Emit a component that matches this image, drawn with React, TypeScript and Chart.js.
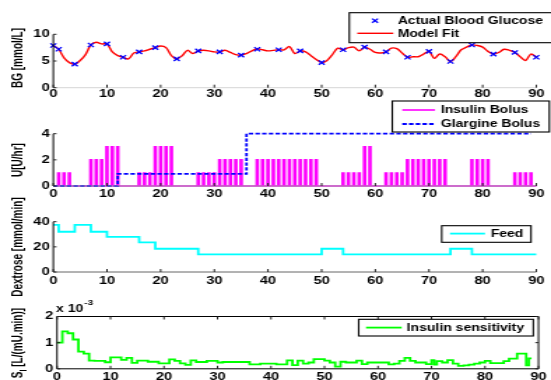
import React, { useEffect, useRef } from 'react';
import { Chart, registerables } from 'chart.js';

Chart.register(...registerables);

// ---------------- data ----------------
const X_TICKS = [0, 10, 20, 30, 40, 50, 60, 70, 80, 90];

const BG_TICKS = [0, 5, 10];
const BG_TIMES = [0, 1, 4, 7, 10, 13, 16, 19, 23, 27, 31, 35, 38, 42, 46, 50, 54, 58, 62, 66, 70, 74, 78, 82, 86, 90];
const BG_VALUES = [7.9, 7.2, 4.4, 8.0, 8.2, 5.7, 6.7, 7.5, 5.4, 6.9, 6.7, 6.1, 7.2, 7.1, 6.9, 4.7, 7.1, 7.6, 6.7, 5.7, 6.8, 4.9, 8.0, 6.3, 6.6, 5.7];

const FIT_TIMES = [0, 1, 2, 3, 4, 5, 6, 7, 8, 9, 10, 11, 12, 13, 14, 15, 16, 17, 18, 19, 20, 21, 22, 23, 24, 25, 26, 27, 28, 29, 30, 31, 32, 33, 34, 35, 36, 37, 38, 39, 40, 41, 42, 43, 44, 45, 46, 47, 48, 49, 50, 51, 52, 53, 54, 55, 56, 57, 58, 59, 60, 61, 62, 63, 64, 65, 66, 67, 68, 69, 70, 71, 72, 73, 74, 75, 76, 77, 78, 79, 80, 81, 82, 83, 84, 85, 86, 87, 88, 89, 90];
const FIT_VALUES = [7.9, 7.2, 5.6, 4.7, 4.4, 5.1, 6.2, 8.0, 8.5, 8.2, 8.2, 6.7, 6.0, 5.7, 5.4, 6.5, 6.7, 6.9, 7.2, 7.5, 7.8, 7.5, 6.0, 5.4, 6.0, 7.0, 6.4, 6.9, 7.0, 6.9, 6.7, 6.7, 7.0, 6.6, 6.2, 6.1, 6.4, 6.9, 7.3, 7.1, 6.9, 7.0, 7.1, 7.1, 7.7, 6.4, 6.9, 6.7, 6.0, 5.3, 4.7, 5.1, 6.2, 7.4, 7.1, 7.5, 7.6, 6.9, 7.6, 7.2, 6.6, 6.5, 6.7, 7.4, 7.3, 6.5, 5.7, 5.8, 5.8, 6.3, 6.8, 5.5, 6.3, 5.8, 4.9, 5.8, 7.1, 7.6, 8.0, 7.9, 7.6, 6.8, 6.3, 6.6, 7.2, 7.0, 6.6, 5.8, 5.1, 6.3, 5.7];

const U_TICKS = [0, 2, 4];
const BOLUS_HOURS = [1, 2, 3, 7, 8, 9, 10, 11, 12, 16, 17, 18, 19, 20, 21, 22, 27, 28, 29, 30, 31, 32, 33, 34, 35, 38, 39, 40, 41, 42, 43, 44, 45, 46, 47, 48, 49, 54, 55, 56, 57, 58, 59, 62, 63, 64, 65, 66, 67, 68, 69, 70, 71, 72, 73, 78, 79, 80, 81, 86, 87, 88, 89];
const BOLUS_RATES = [1, 1, 1, 2, 2, 2, 3, 3, 3, 1, 1, 1, 3, 3, 3, 3, 1, 1, 1, 1, 2, 2, 2, 2, 2, 2, 2, 2, 2, 2, 2, 2, 2, 2, 2, 2, 2, 1, 1, 1, 1, 3, 3, 1, 1, 1, 1, 2, 2, 2, 2, 2, 2, 2, 2, 2, 2, 2, 2, 1, 1, 1, 1];
const GLARGINE_TIMES = [0, 12, 36, 89];
const GLARGINE_RATES = [0, 0.92, 4, 4];

const DEX_TICKS = [0, 20, 40];
const FEED_TIMES = [0, 1, 4, 7, 10, 16, 19, 27, 50, 54, 74, 78, 90];
const FEED_VALUES = [37.5, 32, 37.5, 32, 28, 23.5, 18.5, 14, 18.5, 14, 18.5, 14, 14];

const SI_TICKS = [0, 1, 2];
const SI_TIMES = [0, 1, 2, 3, 4, 5, 6, 7, 8, 9, 10, 12, 13, 14, 15, 17, 19, 21, 22, 23, 24, 25, 26, 28, 30, 31, 36, 38, 41, 43, 44, 45, 46, 47, 48, 50, 51, 52, 53, 54, 56, 57, 58, 62, 63, 64, 65, 66, 67, 69, 70, 70.5, 71, 72, 73, 74, 75, 76, 77, 78, 79, 80, 81, 83.5, 84.5, 86, 87.7, 88.2, 88.7];
const SI_VALUES = [1.0, 1.43, 1.36, 1.12, 0.66, 0.58, 0.31, 0.30, 0.30, 0.25, 0.44, 0.34, 0.42, 0.23, 0.31, 0.27, 0.21, 0.36, 0.30, 0.21, 0.15, 0.32, 0.26, 0.30, 0.24, 0.26, 0.17, 0.20, 0.17, 0.32, 0.14, 0.31, 0.20, 0.24, 0.37, 0.31, 0.24, 0.08, 0.27, 0.24, 0.31, 0.18, 0.24, 0.17, 0.20, 0.30, 0.42, 0.30, 0.24, 0.18, 0.33, 0.16, 0.29, 0.24, 0.33, 0.20, 0.11, 0.13, 0.16, 0.20, 0.24, 0.30, 0.22, 0.29, 0.39, 0.58, 0.13, 0.40, 0.40];

// ---------------- layout ----------------
const W = 551;
const H = 380;
const CW = 394; // internal canvas width, stretched to W
const S = W / CW;
const FONT = '"Liberation Sans", Arial, Helvetica, sans-serif';
const PULSE_HALF = 0.13;

const pts = (xs: number[], ys: number[]) => xs.map((x, i) => ({ x, y: ys[i] }));

function bolusPoints() {
  const out: { x: number; y: number }[] = [{ x: 0, y: 0 }];
  BOLUS_HOURS.forEach((t, i) => {
    const v = BOLUS_RATES[i];
    out.push({ x: t - PULSE_HALF, y: 0 }, { x: t - PULSE_HALF, y: v }, { x: t + PULSE_HALF, y: v }, { x: t + PULSE_HALF, y: 0 });
  });
  out.push({ x: 90, y: 0 });
  return out;
}

type LegendItem = { ds: number; kind: 'line' | 'marker'; x0: number; x1: number; tx: number; y: number };
type Panel = {
  left: number; right: number; top: number; bottom: number;
  ymin: number; ymax: number; yticks: number[];
  xPad: number; box: boolean; bottomColor: string;
  titleY: number; title: { text: string; sub?: boolean }[];
  legendBox: [number, number, number, number];
  legend: LegendItem[];
  datasets: any[];
  exponent?: boolean;
};

const PANELS: Panel[] = [
  {
    left: 53.3, right: 536.3, top: 34.3, bottom: 87.7,
    ymin: 0, ymax: 10, yticks: BG_TICKS, xPad: 0, box: false, bottomColor: '#d6d6d6',
    titleY: 58, title: [{ text: 'BG [mmol/L]' }],
    legendBox: [349.3, 12.7, 560, 42.7],
    legend: [
      { ds: 0, kind: 'marker', x0: 375, x1: 375, tx: 397.7, y: 20.7 },
      { ds: 1, kind: 'line', x0: 357.3, x1: 393.3, tx: 397.7, y: 33.3 },
    ],
    datasets: [
      {
        label: 'Actual Blood Glucose', data: pts(BG_TIMES, BG_VALUES), showLine: false,
        pointStyle: 'crossRot', pointRadius: 3, pointBorderColor: '#0000ff', pointBorderWidth: 1.3,
        borderColor: '#0000ff', backgroundColor: '#0000ff', borderWidth: 1.3, clip: false,
      },
      {
        label: 'Model Fit', data: pts(FIT_TIMES, FIT_VALUES), borderColor: '#ff0000', borderWidth: 1.4,
        pointRadius: 0, tension: 0.35, clip: false,
      },
    ],
  },
  {
    left: 53.3, right: 536.3, top: 133.7, bottom: 186,
    ymin: 0, ymax: 4, yticks: U_TICKS, xPad: 1.5, box: false, bottomColor: '#999999',
    titleY: 160, title: [{ text: 'U[U/hr]' }],
    legendBox: [392.3, 101, 549.3, 132],
    legend: [
      { ds: 1, kind: 'line', x0: 402.3, x1: 435, tx: 440.7, y: 110 },
      { ds: 0, kind: 'line', x0: 402.3, x1: 435, tx: 440.7, y: 124 },
    ],
    datasets: [
      {
        label: 'Glargine Bolus', data: pts(GLARGINE_TIMES, GLARGINE_RATES), stepped: true,
        borderColor: '#0000ff', borderWidth: 1.8, borderDash: [3.2, 1.6], pointRadius: 0, clip: false,
      },
      {
        label: 'Insulin Bolus', data: bolusPoints(), borderColor: '#ff00ff', borderWidth: 1.6,
        pointRadius: 0, tension: 0, clip: false,
      },
    ],
  },
  {
    left: 53.3, right: 536.3, top: 221.7, bottom: 272,
    ymin: 0, ymax: 40, yticks: DEX_TICKS, xPad: 3.3, box: false, bottomColor: '#666666',
    titleY: 247, title: [{ text: 'Dextrose [mmol/min]' }],
    legendBox: [441.7, 225.7, 531, 242.3],
    legend: [{ ds: 0, kind: 'line', x0: 450, x1: 485, tx: 490.7, y: 233.6 }],
    datasets: [
      {
        label: 'Feed', data: pts(FEED_TIMES, FEED_VALUES), stepped: true,
        borderColor: '#00ffff', borderWidth: 1.8, pointRadius: 0, clip: false,
      },
    ],
  },
  {
    left: 57, right: 538.5, top: 316.5, bottom: 368.8,
    ymin: 0, ymax: 2, yticks: SI_TICKS, xPad: 2, box: true, bottomColor: '#000000',
    titleY: 343, title: [{ text: 'S' }, { text: 'I', sub: true }, { text: ' [L/(mU.min)]' }],
    legendBox: [358.7, 319.3, 533.3, 336],
    legend: [{ ds: 0, kind: 'line', x0: 366, x1: 401.7, tx: 406.7, y: 327.6 }],
    datasets: [
      {
        label: 'Insulin sensitivity', data: pts(SI_TIMES, SI_VALUES), stepped: true,
        borderColor: '#00ff00', borderWidth: 1.8, pointRadius: 0, clip: false,
      },
    ],
    exponent: true,
  },
];

function decoPlugin(p: Panel) {
  const line = (ctx: CanvasRenderingContext2D, x0: number, y0: number, x1: number, y1: number) => {
    ctx.beginPath();
    ctx.moveTo(x0, y0);
    ctx.lineTo(x1, y1);
    ctx.stroke();
  };
  return {
    id: 'panelDeco',
    afterDatasetsDraw(chart: any) {
      const ctx: CanvasRenderingContext2D = chart.ctx;
      const { left, right, top, bottom } = chart.chartArea;
      const xs = chart.scales.x;
      const ys = chart.scales.y;
      ctx.save();
      ctx.lineWidth = 1;
      ctx.strokeStyle = p.bottomColor;
      line(ctx, left, bottom, right, bottom);
      ctx.strokeStyle = '#000';
      line(ctx, left, top, left, bottom);
      if (p.box) {
        line(ctx, left, top, right, top);
        line(ctx, right, top, right, bottom);
      }
      ctx.strokeStyle = '#222';
      xs.ticks.forEach((t: any) => {
        const px = xs.getPixelForValue(t.value);
        line(ctx, px, bottom, px, bottom - 3);
        if (p.box) line(ctx, px, top, px, top + 3);
      });
      ys.ticks.forEach((t: any) => {
        const py = ys.getPixelForValue(t.value);
        line(ctx, left, py, left + 2.3, py);
        if (p.box) line(ctx, right, py, right - 2.3, py);
      });
      ctx.restore();
    },
    afterDraw(chart: any) {
      const ctx: CanvasRenderingContext2D = chart.ctx;
      ctx.save();
      // y-axis title
      const big = `bold 10px ${FONT}`;
      const small = `bold 7px ${FONT}`;
      ctx.translate(19 / S, p.titleY);
      ctx.rotate(-Math.PI / 2);
      ctx.textBaseline = 'middle';
      ctx.textAlign = 'left';
      ctx.fillStyle = '#000';
      let total = 0;
      p.title.forEach((part) => {
        ctx.font = part.sub ? small : big;
        total += ctx.measureText(part.text).width;
      });
      let cx = -total / 2;
      p.title.forEach((part) => {
        ctx.font = part.sub ? small : big;
        ctx.fillText(part.text, cx, part.sub ? 3 : 0);
        cx += ctx.measureText(part.text).width;
      });
      ctx.restore();

      // exponent label
      if (p.exponent) {
        ctx.save();
        ctx.fillStyle = '#000';
        ctx.textBaseline = 'middle';
        ctx.textAlign = 'left';
        ctx.font = big;
        const base = 'x 10';
        ctx.fillText(base, 56 / S, 309.5);
        const w = ctx.measureText(base).width;
        ctx.font = small;
        ctx.fillText('-3', 56 / S + w + 0.8, 303.5);
        ctx.restore();
      }

      // legend
      ctx.save();
      const [bx0, by0, bx1, by1] = p.legendBox;
      ctx.fillStyle = '#fff';
      ctx.fillRect(bx0 / S, by0, (bx1 - bx0) / S, by1 - by0);
      ctx.strokeStyle = '#000';
      ctx.lineWidth = 1.1;
      ctx.strokeRect(bx0 / S, by0, (bx1 - bx0) / S, by1 - by0);
      p.legend.forEach((it) => {
        const ds = chart.data.datasets[it.ds];
        if (it.kind === 'marker') {
          const r = 2.1;
          const mx = it.x0 / S;
          ctx.strokeStyle = ds.pointBorderColor;
          ctx.lineWidth = ds.pointBorderWidth;
          ctx.setLineDash([]);
          ctx.beginPath();
          ctx.moveTo(mx - r, it.y - r);
          ctx.lineTo(mx + r, it.y + r);
          ctx.moveTo(mx - r, it.y + r);
          ctx.lineTo(mx + r, it.y - r);
          ctx.stroke();
        } else {
          ctx.strokeStyle = ds.borderColor;
          ctx.lineWidth = ds.borderWidth;
          ctx.setLineDash(ds.borderDash || []);
          ctx.beginPath();
          ctx.moveTo(it.x0 / S, it.y);
          ctx.lineTo(it.x1 / S, it.y);
          ctx.stroke();
          ctx.setLineDash([]);
        }
        ctx.fillStyle = '#000';
        ctx.font = big;
        ctx.textBaseline = 'middle';
        ctx.textAlign = 'left';
        ctx.fillText(ds.label, it.tx / S, it.y + 0.5);
      });
      ctx.restore();
    },
  };
}

function buildConfig(p: Panel): any {
  const tickFont = { family: FONT, size: 10.5, weight: 'bold' as const };
  return {
    type: 'line',
    data: { datasets: p.datasets },
    options: {
      responsive: false,
      animation: false,
      devicePixelRatio: 1,
      events: [],
      layout: { padding: { left: 0, right: CW - p.right / S, top: p.top, bottom: 0 } },
      plugins: { legend: { display: false }, tooltip: { enabled: false }, title: { display: false } },
      scales: {
        x: {
          type: 'linear', min: 0, max: 90,
          afterBuildTicks: (s: any) => { s.ticks = X_TICKS.map((v) => ({ value: v })); },
          afterFit: (s: any) => { s.height = H - p.bottom; },
          ticks: { font: tickFont, color: '#000', padding: p.xPad, autoSkip: false, maxRotation: 0 },
          grid: { display: false, drawTicks: false },
          border: { display: false },
        },
        y: {
          type: 'linear', min: p.ymin, max: p.ymax,
          afterBuildTicks: (s: any) => { s.ticks = p.yticks.map((v) => ({ value: v })); },
          afterFit: (s: any) => { s.width = p.left / S; },
          ticks: { font: tickFont, color: '#000', padding: 2.6, autoSkip: false },
          grid: { display: false, drawTicks: false },
          border: { display: false },
        },
      },
    },
    plugins: [decoPlugin(p)],
  };
}

export default function App() {
  const refs = [useRef<HTMLCanvasElement>(null), useRef<HTMLCanvasElement>(null), useRef<HTMLCanvasElement>(null), useRef<HTMLCanvasElement>(null)];
  useEffect(() => {
    const charts = PANELS.map((p, i) => new Chart(refs[i].current as HTMLCanvasElement, buildConfig(p)));
    return () => charts.forEach((c) => c.destroy());
  }, []);
  return (
    <div style={{ position: 'absolute', left: 0, top: 0, width: W, height: H, background: '#fff', overflow: 'hidden' }}>
      {PANELS.map((_, i) => (
        <canvas
          key={i}
          ref={refs[i]}
          width={CW}
          height={H}
          style={{ position: 'absolute', left: 0, top: 0, width: `${W}px`, height: `${H}px` }}
        />
      ))}
    </div>
  );
}
